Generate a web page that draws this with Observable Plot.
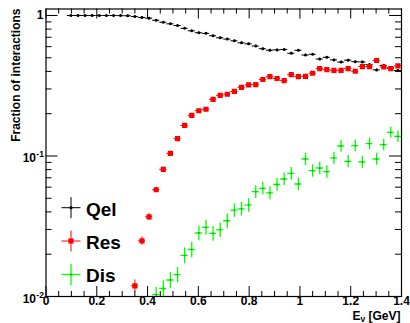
<!DOCTYPE html>
<html><head><meta charset="utf-8">
<script src="https://cdn.jsdelivr.net/npm/d3@7"></script>
<script src="https://cdn.jsdelivr.net/npm/@observablehq/plot@0.6"></script>
<style>
html,body{margin:0;padding:0;background:#fff;}
#chart{width:410px;height:323px;}
</style></head><body><div id="chart"></div>
<script>
// ---- data (bin centres in GeV, bin half-width, fractions and errors) ----
const energy = [0.098,0.126,0.154,0.182,0.210,0.238,0.266,0.294,0.322,0.350,0.378,0.406,0.434,0.462,0.490,0.518,0.546,0.574,0.602,0.630,0.658,0.686,0.714,0.742,0.770,0.798,0.826,0.854,0.882,0.910,0.938,0.966,0.994,1.022,1.050,1.078,1.106,1.134,1.162,1.190,1.218,1.246,1.274,1.302,1.330,1.358,1.386];
const binHalfWidth = 0.014;
const qel = [1.000,1.000,1.000,1.000,1.000,1.000,1.000,0.998,0.995,0.984,0.968,0.957,0.925,0.895,0.872,0.848,0.810,0.778,0.754,0.746,0.717,0.694,0.679,0.660,0.639,0.628,0.606,0.580,0.566,0.569,0.573,0.539,0.565,0.523,0.529,0.490,0.504,0.483,0.466,0.481,0.469,0.467,0.448,0.410,0.441,0.424,0.406];
const qelErr = [0.012,0.012,0.012,0.012,0.012,0.012,0.012,0.012,0.012,0.012,0.012,0.012,0.011,0.011,0.010,0.010,0.010,0.010,0.009,0.009,0.009,0.009,0.009,0.009,0.009,0.008,0.008,0.008,0.008,0.008,0.008,0.008,0.008,0.008,0.007,0.007,0.007,0.007,0.007,0.007,0.007,0.007,0.007,0.007,0.007,0.007,0.007];
const res = [null,null,null,null,null,null,null,null,null,0.0119,0.0249,0.0369,0.0575,0.0803,0.1044,0.1328,0.165,0.1945,0.210,0.215,0.253,0.270,0.275,0.288,0.308,0.321,0.322,0.350,0.367,0.356,0.344,0.379,0.367,0.369,0.388,0.419,0.412,0.407,0.407,0.419,0.401,0.433,0.433,0.478,0.430,0.419,0.438];
const resErr = [null,null,null,null,null,null,null,null,null,0.0012,0.0017,0.0019,0.0024,0.0028,0.0031,0.0035,0.0039,0.0042,0.0044,0.0045,0.0049,0.0050,0.0051,0.0052,0.0054,0.0055,0.0055,0.0057,0.0058,0.0058,0.0057,0.0060,0.0059,0.0059,0.0061,0.0063,0.0063,0.0062,0.0062,0.0063,0.0062,0.0064,0.0064,0.0067,0.0064,0.0063,0.0065];
const dis = [null,null,null,null,null,null,null,null,null,null,null,null,0.0103,0.0114,0.0131,0.0143,0.0196,0.0216,0.0283,0.0310,0.0281,0.0298,0.0346,0.0412,0.0421,0.0447,0.0557,0.0588,0.0547,0.0627,0.0686,0.0752,0.0632,0.0952,0.0786,0.0821,0.0773,0.0968,0.1178,0.0915,0.1184,0.0906,0.1224,0.0952,0.1204,0.1473,0.1379];
const disErr = [null,null,null,null,null,null,null,null,null,null,null,null,0.0013,0.0015,0.0017,0.0018,0.0025,0.0027,0.0034,0.0037,0.0034,0.0035,0.0040,0.0046,0.0047,0.0049,0.0058,0.0061,0.0058,0.0065,0.0070,0.0076,0.0066,0.0095,0.0080,0.0083,0.0079,0.0096,0.0113,0.0091,0.0113,0.0090,0.0116,0.0094,0.0114,0.0135,0.0130];
const seriesNames = ["Qel","Res","Dis"];
const xTickValues = [0,0.2,0.4,0.6,0.8,1.0,1.2,1.4];
const xTickLabels = ["0","0.2","0.4","0.6","0.8","1","1.2","1.4"];
const yTickValues = [1,0.1,0.01];
const yTickLabels = [["1",""],["10","-1"],["10","-2"]];
const xTitle = ["E","\u03BD"," [GeV]"];
const yTitle = "Fraction of interactions";

// ---- build ----
const colors = {Qel:"#000000", Res:"#ff0000", Dis:"#00ff00"};
const series = [
  {name:"Qel", values:qel, errs:qelErr},
  {name:"Res", values:res, errs:resErr},
  {name:"Dis", values:dis, errs:disErr}
];
const W=410,H=323,mL=45.5,mR=9,mT=8.5,mB=27;
const frameH=H-mT-mB, frameW=W-mL-mR;
const font="'Liberation Sans', Arial, Helvetica, sans-serif";
const xMinor = d3.range(0,1.40001,0.05).filter(v=>Math.abs(v/0.2-Math.round(v/0.2))>1e-6);
const yMinor = [2,3,4,5,6,7,8,9].flatMap(m=>[m*0.01,m*0.1]);

const dataMarks = [];
for (const s of series) {
  const rows = [];
  energy.forEach((e,i)=>{ if(s.values[i]!=null) rows.push({x:e,y:s.values[i],err:s.errs[i]}); });
  const c = colors[s.name];
  dataMarks.push(Plot.ruleX(rows,{x:"x",y1:d=>d.y-d.err,y2:d=>d.y+d.err,stroke:c,strokeWidth:s.name==="Dis"?1.3:1,clip:true}));
  dataMarks.push(Plot.ruleY(rows,{y:"y",x1:d=>d.x-binHalfWidth,x2:d=>d.x+binHalfWidth,stroke:c,strokeWidth:s.name==="Dis"?1.3:1,clip:true}));
  if (s.name==="Qel") dataMarks.push(Plot.dot(rows,{x:"x",y:"y",r:1.5,fill:c,stroke:null}));
  if (s.name==="Res") dataMarks.push(Plot.dot(rows,{x:"x",y:"y",r:2.9,symbol:"square",fill:c,stroke:null,clip:true}));
  if (s.name==="Dis") dataMarks.push(Plot.dot(rows,{x:"x",y:"y",r:0.9,fill:"#00bb00",stroke:null,clip:true}));
}

const plot = Plot.plot({
  width:W,height:H,marginLeft:mL,marginRight:mR,marginTop:mT,marginBottom:mB,
  style:{fontFamily:font,background:"white",overflow:"visible"},
  x:{domain:[0,1.4],axis:null},
  y:{type:"log",domain:[0.01,1.112],axis:null},
  marks:[
    ...dataMarks,
    Plot.ruleX(xTickValues,{x:d=>d,insetTop:frameH-10,stroke:"black"}),
    Plot.ruleX(xTickValues,{x:d=>d,insetBottom:frameH-10,stroke:"black"}),
    Plot.ruleX(xMinor,{x:d=>d,insetTop:frameH-5,stroke:"black"}),
    Plot.ruleX(xMinor,{x:d=>d,insetBottom:frameH-5,stroke:"black"}),
    Plot.ruleY(yTickValues,{y:d=>d,insetRight:frameW-12,stroke:"black"}),
    Plot.ruleY(yTickValues,{y:d=>d,insetLeft:frameW-12,stroke:"black"}),
    Plot.ruleY(yMinor,{y:d=>d,insetRight:frameW-6,stroke:"black"}),
    Plot.ruleY(yMinor,{y:d=>d,insetLeft:frameW-6,stroke:"black"}),
    Plot.frame({stroke:"black",strokeWidth:1.2}),
    Plot.text(xTickValues,{x:d=>d,frameAnchor:"bottom",dy:8,text:(d,i)=>xTickLabels[i],fontWeight:"bold",fontSize:12,fill:"black"})
  ]
});
document.getElementById("chart").appendChild(plot);

const svg = d3.select(plot);
const ys = plot.scale("y");
// y tick labels
yTickValues.forEach((v,i)=>{
  const py = ys.apply(v);
  const [base,sup] = yTickLabels[i];
  if (!sup) {
    svg.append("text").attr("x",43.5).attr("y",py+4.3).attr("text-anchor","end")
      .attr("font-family",font).attr("font-weight","bold").attr("font-size",12).text(base);
  } else {
    svg.append("text").attr("x",36).attr("y",py+6.5).attr("text-anchor","end")
      .attr("font-family",font).attr("font-weight","bold").attr("font-size",12).text(base);
    svg.append("text").attr("x",36.3).attr("y",py+1.8).attr("text-anchor","start")
      .attr("font-family",font).attr("font-weight","bold").attr("font-size",8.5).text(sup);
  }
});
// axis titles
svg.append("text").attr("transform","translate(19.5,8.5) rotate(-90)").attr("text-anchor","end")
  .attr("font-family",font).attr("font-weight","bold").attr("font-size",12).text(yTitle);
const xt = svg.append("text").attr("x",400.5).attr("y",319.5).attr("text-anchor","end")
  .attr("font-family",font).attr("font-weight","bold").attr("font-size",12);
xt.append("tspan").text(xTitle[0]);
xt.append("tspan").attr("font-size",8.5).attr("dy",2.5).text(xTitle[1]);
xt.append("tspan").attr("dy",-2.5).text(xTitle[2]);
// legend
const legendY = [207.7,241,274.5];
seriesNames.forEach((name,i)=>{
  const cy = legendY[i], c = colors[name];
  const g = svg.append("g");
  const sw = name==="Dis"?1.3:1;
  g.append("line").attr("x1",61.5).attr("x2",80.5).attr("y1",cy).attr("y2",cy).attr("stroke",c).attr("stroke-width",sw);
  g.append("line").attr("x1",71).attr("x2",71).attr("y1",cy-10.5).attr("y2",cy+10.5).attr("stroke",c).attr("stroke-width",sw);
  if (name==="Qel") g.append("circle").attr("cx",71).attr("cy",cy).attr("r",1.6).attr("fill",c);
  if (name==="Res") g.append("rect").attr("x",68.4).attr("y",cy-2.6).attr("width",5.2).attr("height",5.2).attr("fill",c);
  if (name==="Dis") g.append("circle").attr("cx",71).attr("cy",cy).attr("r",0.9).attr("fill","#00bb00");
  g.append("text").attr("x",86).attr("y",cy+7.8).attr("text-anchor","start").attr("font-family",font).attr("font-weight","bold")
    .attr("font-size",19).attr("fill","black").text(name);
});
</script></body></html>
